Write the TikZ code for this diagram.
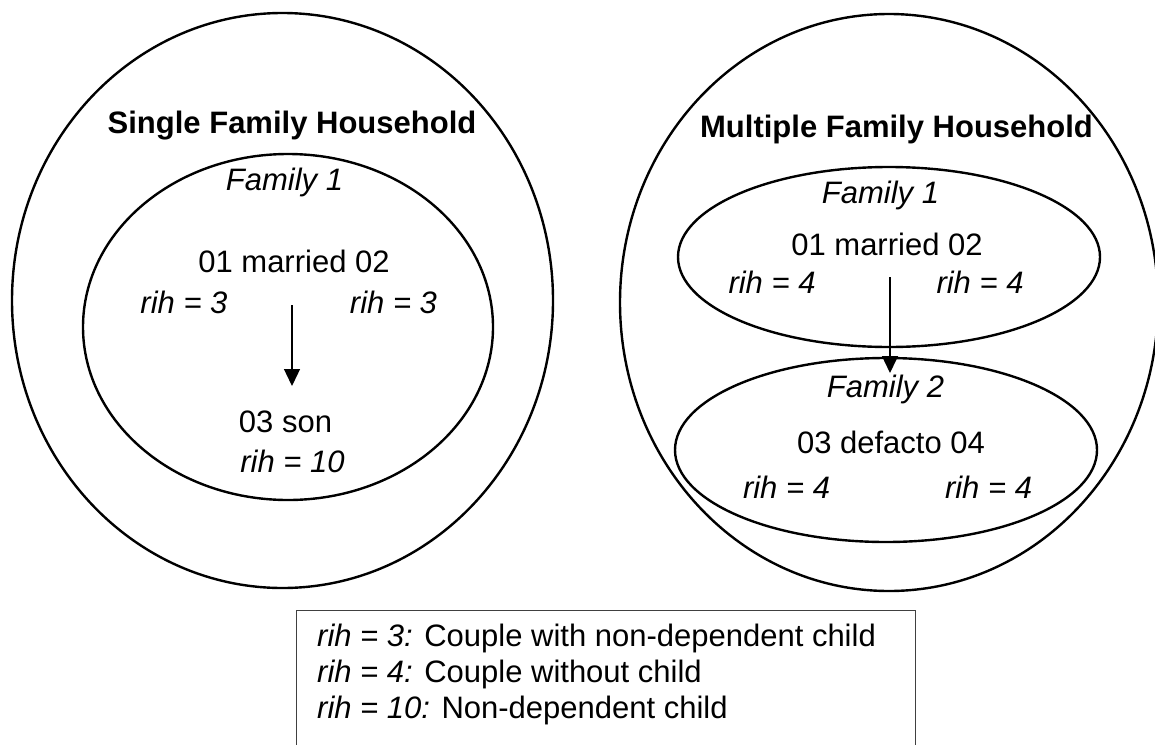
\documentclass[tikz,border=0pt]{standalone}
\usepackage{fontspec}
\setmainfont{Liberation Sans}
\usetikzlibrary{shapes.geometric,arrows.meta}
\begin{document}
\begin{tikzpicture}[x=1pt,y=-1pt,
  font=\fontsize{31}{36}\selectfont,
  ring/.style={draw, ellipse, line width=2.4pt, inner sep=0pt, outer sep=0pt},
  lbl/.style={anchor=base, inner sep=0pt},
  arr/.style={-{Triangle[width=16pt,length=17pt]}, line width=1.3pt}]
\useasboundingbox (0,0) rectangle (1155,744);
\fill[white] (0,0) rectangle (1155,744);

% outer households
\node[ring, minimum width=541pt, minimum height=575pt] (single) at (282.5,300.5) {};
\node[ring, minimum width=538pt, minimum height=577pt] (multi) at (889,302.5) {};

% families
\node[ring, minimum width=410pt, minimum height=346pt] (sfam) at (288,327) {};
\node[ring, minimum width=422pt, minimum height=180pt] (mfam1) at (889,257) {};
\node[ring, minimum width=422pt, minimum height=184pt] (mfam2) at (886,450) {};

% titles
\node[lbl, font=\fontsize{31}{36}\selectfont\bfseries] (t1) at (292,133) {Single Family Household};
\node[lbl, font=\fontsize{31}{36}\selectfont\bfseries] (t2) at (896.5,137) {Multiple Family Household};

% left household
\node[lbl, font=\fontsize{31}{36}\selectfont\itshape] (sf1) at (284.5,190) {Family 1};
\node[lbl] (smar) at (294,272) {01 married 02};
\node[lbl, font=\fontsize{31}{36}\selectfont\itshape] (sr1) at (184,313) {rih = 3};
\node[lbl, font=\fontsize{31}{36}\selectfont\itshape] (sr2) at (393.5,313) {rih = 3};
\node[lbl] (sson) at (285.5,432) {03 son};
\node[lbl, font=\fontsize{31}{36}\selectfont\itshape] (sr3) at (292.5,472) {rih = 10};
\coordinate (sa) at (292,305);
\coordinate (sb) at (292,386);
\draw[arr] (sa) -- (sb);

% right household
\node[lbl, font=\fontsize{31}{36}\selectfont\itshape] (mf1) at (880.5,203) {Family 1};
\node[lbl] (mmar) at (887,255) {01 married 02};
\node[lbl, font=\fontsize{31}{36}\selectfont\itshape] (mr1) at (772,293) {rih = 4};
\node[lbl, font=\fontsize{31}{36}\selectfont\itshape] (mr2) at (980,293) {rih = 4};
\node[lbl, font=\fontsize{31}{36}\selectfont\itshape] (mf2) at (885.5,397) {Family 2};
\node[lbl] (mdef) at (891,453) {03 defacto 04};
\node[lbl, font=\fontsize{31}{36}\selectfont\itshape] (mr3) at (786.5,498) {rih = 4};
\node[lbl, font=\fontsize{31}{36}\selectfont\itshape] (mr4) at (988.5,498) {rih = 4};
\coordinate (ma) at (890,277);
\coordinate (mb) at (890,373);
\draw[arr] (ma) -- (mb);

% legend
\node[draw=black!75, line width=1.4pt, anchor=north west, minimum width=619pt, minimum height=150pt, inner sep=0pt] (leg) at (296,610) {};
\node[anchor=base west, inner sep=0pt] (l1) at (317,646) {\textit{rih = 3:} Couple with non-dependent child};
\node[anchor=base west, inner sep=0pt] (l2) at (317,682) {\textit{rih = 4:} Couple without child};
\node[anchor=base west, inner sep=0pt] (l3) at (317,718) {\textit{rih = 10:} Non-dependent child};
\end{tikzpicture}
\end{document}
